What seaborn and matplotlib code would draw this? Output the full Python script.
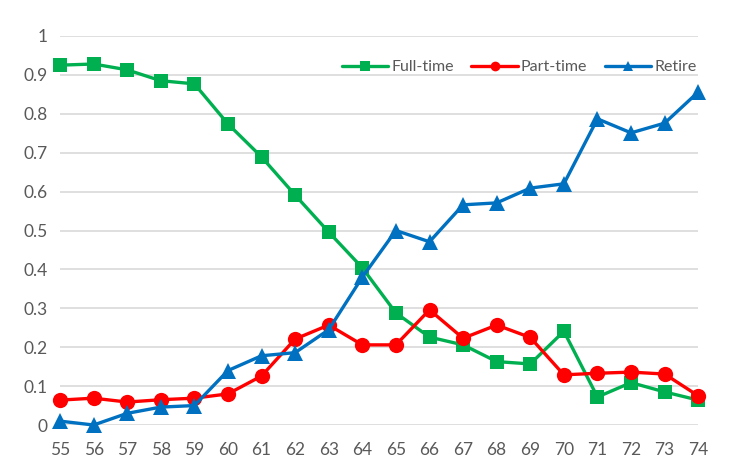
import seaborn as sns
import matplotlib.pyplot as plt
import pandas as pd

ages = list(range(55, 75))
full_time = [0.925, 0.928, 0.913, 0.885, 0.877, 0.774, 0.689, 0.591, 0.496, 0.404,
             0.288, 0.226, 0.206, 0.163, 0.157, 0.241, 0.072, 0.109, 0.085, 0.064]
part_time = [0.064, 0.069, 0.059, 0.065, 0.069, 0.080, 0.126, 0.221, 0.257, 0.206,
             0.206, 0.296, 0.223, 0.257, 0.225, 0.129, 0.133, 0.136, 0.131, 0.075]
retire = [0.010, 0.000, 0.030, 0.046, 0.050, 0.140, 0.178, 0.186, 0.245, 0.380,
          0.500, 0.471, 0.566, 0.571, 0.609, 0.620, 0.787, 0.751, 0.776, 0.856]

series = {'Full-time': full_time, 'Part-time': part_time, 'Retire': retire}
colors = {'Full-time': '#00B050', 'Part-time': '#FF0000', 'Retire': '#0070C0'}
markers = {'Full-time': 's', 'Part-time': 'o', 'Retire': '^'}
msizes = {'Full-time': 10, 'Part-time': 11, 'Retire': 12}

df = pd.DataFrame([(a, name, v) for name, vals in series.items() for a, v in zip(ages, vals)],
                  columns=['age', 'status', 'share'])

sns.set_style('white')
plt.rcParams['font.family'] = ['Lato', 'DejaVu Sans']

fig = plt.figure(figsize=(7.37, 4.65), dpi=100)
ax = fig.add_axes([0.0814, 0.086, 0.866, 0.8366])

for name in series:
    sub = df[df['status'] == name]
    sns.lineplot(data=sub, x='age', y='share', ax=ax, color=colors[name],
                 marker=markers[name], markersize=msizes[name], markeredgewidth=0,
                 linewidth=2.4, label=name, clip_on=False)

ax.set_xlim(55, 74)
ax.set_ylim(0, 1)
ax.set_xticks(ages)
ax.set_yticks([i / 10 for i in range(11)])
ax.set_yticklabels(['0'] + [f'0.{i}' for i in range(1, 10)] + ['1'])
ax.grid(axis='y', color='#d9d9d9', linewidth=1.2)
ax.set_axisbelow(True)
for s in ax.spines.values():
    s.set_visible(False)
ax.tick_params(axis='both', colors='#595959', labelsize=12.5, length=0)
ax.tick_params(axis='x', pad=12)
ax.tick_params(axis='y', pad=9)
ax.set_xlabel('')
ax.set_ylabel('')

leg = ax.legend(loc='center right', bbox_to_anchor=(1.02, 0.92), ncol=3, frameon=False,
                fontsize=11.5, handlelength=2.9, handletextpad=0.2, columnspacing=1.1)
for h in leg.legend_handles:
    h.set_markersize(7)
for t in leg.get_texts():
    t.set_color('#595959')

fig.savefig('out.png', dpi=100)
